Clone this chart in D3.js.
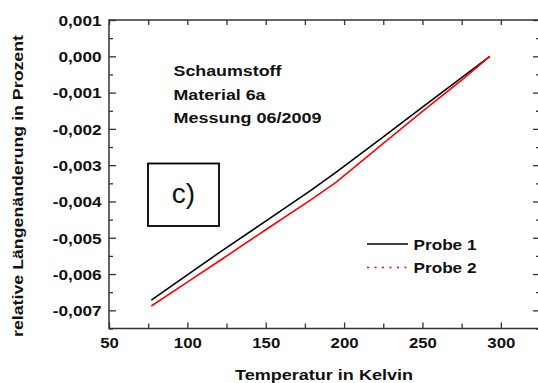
<!DOCTYPE html>
<html>
<head>
<meta charset="utf-8">
<script src="https://cdn.jsdelivr.net/npm/d3@7"></script>
<style>
  html, body { margin: 0; padding: 0; background: #fff; }
  svg { display: block; }
  text { font-family: "Liberation Sans", Arial, sans-serif; fill: #111; }
</style>
</head>
<body>
<svg id="chart" width="538" height="383"></svg>
<script>
// Temperatures (K) and relative length change (%) for both foam samples
const temps = [77, 100, 121, 150, 179, 195, 225, 250, 275, 293];
const probe1 = [-0.00672, -0.00602, -0.00539, -0.00454, -0.00369, -0.00319, -0.00222, -0.00140, -0.00059, 0.0];
const probe2 = [-0.00688, -0.00622, -0.00562, -0.00478, -0.00395, -0.00347, -0.00240, -0.00152, -0.00066, 0.0];

const xTicks = [50, 100, 150, 200, 250, 300];
const xMinor = [75, 125, 175, 225, 275, 325];
const yTicks = [0.001, 0.0, -0.001, -0.002, -0.003, -0.004, -0.005, -0.006, -0.007];
const yMinor = [0.0005, -0.0005, -0.0015, -0.0025, -0.0035, -0.0045, -0.0055, -0.0065, -0.0075];

const seriesNames = ["Probe 1", "Probe 2"];
const seriesColors = ["#000000", "#ff0000"];
const infoLines = ["Schaumstoff", "Material 6a", "Messung 06/2009"];
const panelLabel = "c)";
const xTitle = "Temperatur in Kelvin";
const yTitle = "relative Längenänderung in Prozent";

const svg = d3.select("#chart");
const L = 109, R = 540, T = 20, B = 328.5;

const x = d3.scaleLinear().domain([50, 325]).range([L, R]);
const y = d3.scaleLinear().domain([-0.0075, 0.001]).range([B, T]);

const fmtY = v => d3.format(".3f")(Math.abs(v) < 1e-9 ? 0 : v).replace("−", "-").replace(".", ",");

// stretch text horizontally to a given width
function fitWidth(sel, w) {
  sel.attr("textLength", w).attr("lengthAdjust", "spacingAndGlyphs");
}

const axisColor = "#333";

// bottom axis: major ticks inward with labels, minor ticks inward
const gx = svg.append("g").attr("transform", `translate(0,${B})`)
  .call(d3.axisBottom(x).tickValues(xTicks).tickSize(-6).tickPadding(10).tickFormat(d3.format("d")));
svg.append("g").attr("transform", `translate(0,${B})`)
  .call(d3.axisBottom(x).tickValues(xMinor).tickSize(-5).tickFormat(""));
// top axis ticks
svg.append("g").attr("transform", `translate(0,${T})`)
  .call(d3.axisTop(x).tickValues(xTicks.concat(xMinor)).tickSize(-5).tickFormat(""));

// left axis
const gy = svg.append("g").attr("transform", `translate(${L},0)`)
  .call(d3.axisLeft(y).tickValues(yTicks).tickSize(-7).tickPadding(8).tickFormat(fmtY));
svg.append("g").attr("transform", `translate(${L},0)`)
  .call(d3.axisLeft(y).tickValues(yMinor).tickSize(-4).tickFormat(""));
// right axis ticks
svg.append("g").attr("transform", `translate(${R},0)`)
  .call(d3.axisRight(y).tickValues(yTicks).tickSize(-7).tickFormat(""));
svg.append("g").attr("transform", `translate(${R},0)`)
  .call(d3.axisRight(y).tickValues(yMinor).tickSize(-4).tickFormat(""));

svg.selectAll(".domain").remove();
svg.selectAll(".tick line").attr("stroke", axisColor).attr("stroke-width", 1.3);

gx.selectAll(".tick text")
  .style("font-family", "Liberation Sans, Arial, sans-serif")
  .style("font-weight", "bold").style("font-size", "15px").attr("fill", "#111")
  .attr("dy", "0").attr("y", 19.8)
  .attr("transform", "scale(1.12,1)");

gy.selectAll(".tick text")
  .style("font-family", "Liberation Sans, Arial, sans-serif")
  .style("font-weight", "bold").style("font-size", "15px").attr("fill", "#111")
  .attr("x", -6.4).attr("dy", "0.36em")
  .attr("transform", "scale(1.15,1)");

// frame
svg.append("rect").attr("x", L).attr("y", T).attr("width", R - L).attr("height", B - T)
  .attr("fill", "none").attr("stroke", axisColor).attr("stroke-width", 1.5);

// data lines
const line = d3.line().x((d, i) => x(temps[i])).y(d => y(d));
[probe1, probe2].forEach((s, k) => {
  svg.append("path").datum(s).attr("d", line)
    .attr("fill", "none").attr("stroke", seriesColors[k]).attr("stroke-width", 1.6);
});

// info text block
infoLines.forEach((t, i) => {
  const widths = [108, 92, 148];
  svg.append("text").attr("x", 173.5).attr("y", 76 + i * 23.5)
    .style("font-weight", "bold").style("font-size", "14.5px")
    .text(t).call(fitWidth, widths[i]);
});

// panel label box
svg.append("rect").attr("x", 148).attr("y", 163.5).attr("width", 71).attr("height", 62.5)
  .attr("fill", "none").attr("stroke", "#000").attr("stroke-width", 1.8);
svg.append("text").attr("x", 183.5).attr("y", 203).attr("text-anchor", "middle")
  .style("font-size", "28px").text(panelLabel);

// legend
const legY = [244, 267.5];
seriesNames.forEach((n, k) => {
  svg.append("line").attr("x1", 367).attr("x2", 408).attr("y1", legY[k]).attr("y2", legY[k])
    .attr("stroke", seriesColors[k]).attr("stroke-width", k === 0 ? 1.4 : 1.6)
    .attr("stroke-dasharray", k === 0 ? null : "2,5.5");
  svg.append("text").attr("x", 413.5).attr("y", legY[k] + 5.5)
    .style("font-weight", "bold").style("font-size", "14.5px")
    .text(n).call(fitWidth, 63);
});

// axis titles
svg.append("text").attr("x", 324).attr("y", 380).attr("text-anchor", "middle")
  .style("font-weight", "bold").style("font-size", "15.5px")
  .text(xTitle).call(fitWidth, 178);
svg.append("text").attr("transform", "translate(23,186) rotate(-90)").attr("text-anchor", "middle")
  .style("font-weight", "bold").style("font-size", "15.5px")
  .text(yTitle).call(fitWidth, 302);
</script>
</body>
</html>
